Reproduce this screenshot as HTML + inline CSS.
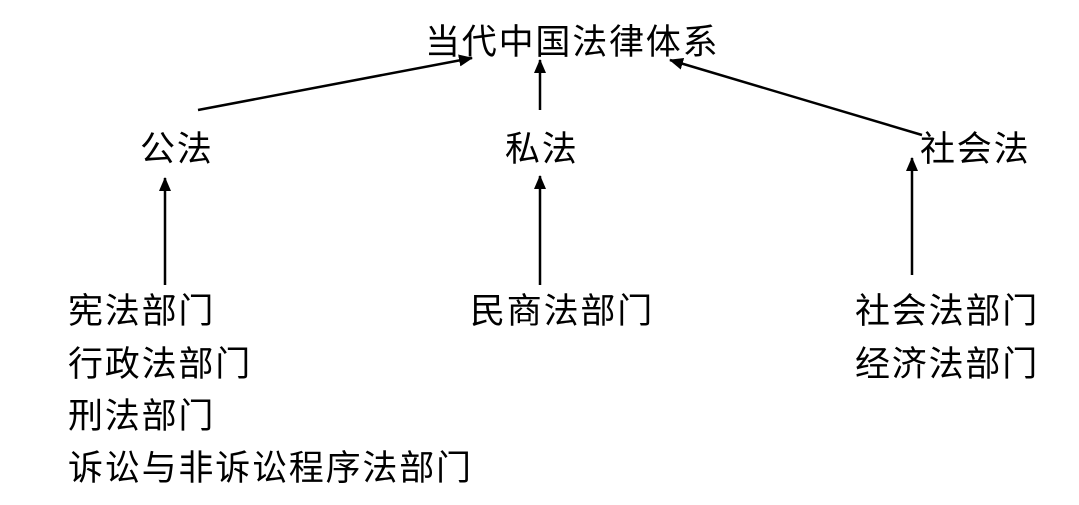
<!DOCTYPE html>
<html><head><meta charset="utf-8"><style>
html,body{margin:0;padding:0;background:#fff;}
body{width:1079px;height:505px;position:relative;overflow:hidden;font-family:"Liberation Sans","Noto Sans CJK SC",sans-serif;color:#000;}
.t{position:absolute;font-size:35px;line-height:36px;white-space:nowrap;letter-spacing:1.8px;}
svg{position:absolute;left:0;top:0;}
</style></head><body>
<div class="t" style="left:425px;top:25px;">当代中国法律体系</div>
<div class="t" style="left:140px;top:132px;">公法</div>
<div class="t" style="left:505px;top:132px;">私法</div>
<div class="t" style="left:920px;top:132px;">社会法</div>
<div class="t" style="left:68px;top:294px;">宪法部门</div>
<div class="t" style="left:68px;top:347px;">行政法部门</div>
<div class="t" style="left:68px;top:399px;">刑法部门</div>
<div class="t" style="left:68px;top:451px;">诉讼与非诉讼程序法部门</div>
<div class="t" style="left:470px;top:294px;">民商法部门</div>
<div class="t" style="left:855px;top:294px;">社会法部门</div>
<div class="t" style="left:855px;top:347px;">经济法部门</div>
<svg width="1079" height="505">
<defs><marker id="a" markerWidth="14" markerHeight="14" refX="13" refY="7" orient="auto" markerUnits="userSpaceOnUse" viewBox="0 0 14 14"><path d="M0,1 L14,7 L0,13 z" fill="#000"/></marker></defs>
<g stroke="#000" stroke-width="2.5" fill="none" marker-end="url(#a)">
<line x1="198" y1="110" x2="472" y2="58"/>
<line x1="540" y1="110" x2="540" y2="60"/>
<line x1="922" y1="135" x2="670" y2="60"/>
<line x1="165" y1="285" x2="165" y2="178"/>
<line x1="540" y1="285" x2="540" y2="176"/>
<line x1="912" y1="275" x2="912" y2="158"/>
</g></svg>
</body></html>
